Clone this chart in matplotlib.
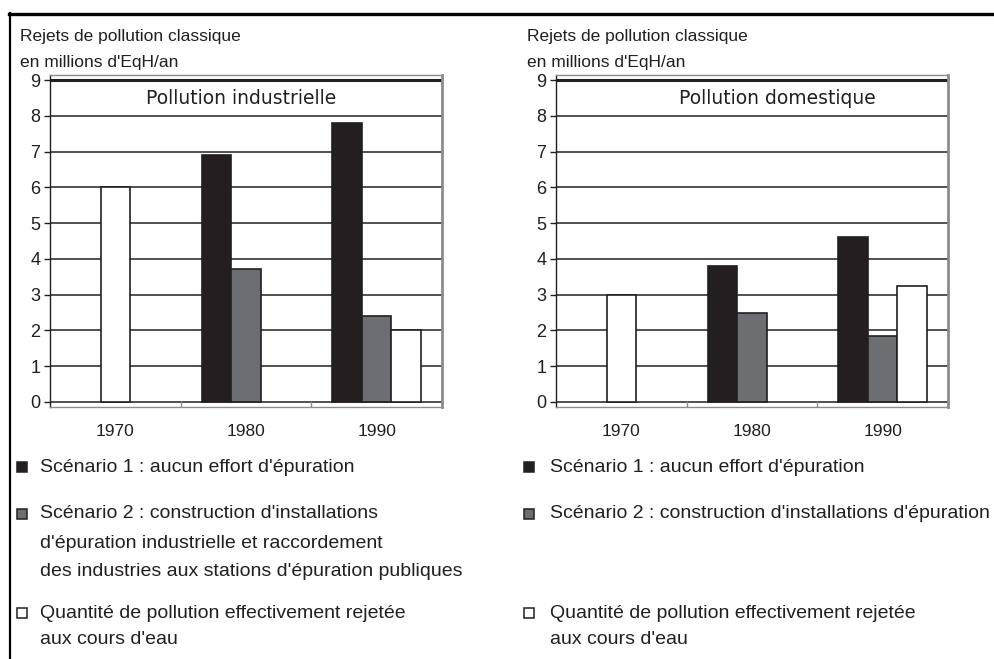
"""Rejets de pollution classique : industrielle vs domestique, 1970-1990."""

import numpy as np
import matplotlib.pyplot as plt
from matplotlib.lines import Line2D

plt.rcParams["font.family"] = ["Liberation Sans", "DejaVu Sans"]

# ── data ──────────────────────────────────────────────────────────────────────

YEARS = ["1970", "1980", "1990"]

IND_SCEN1 = [np.nan, 6.9, 7.8]     # aucun effort d'épuration
IND_SCEN2 = [np.nan, 3.72, 2.4]    # construction d'installations
IND_REJET = [6.0, np.nan, 2.0]     # pollution effectivement rejetée

DOM_SCEN1 = [np.nan, 3.8, 4.6]
DOM_SCEN2 = [np.nan, 2.5, 1.85]
DOM_REJET = [3.0, np.nan, 3.25]

YLABEL = ["Rejets de pollution classique", "en millions d'EqH/an"]

LEGEND_IND = [
    ["Scénario 1 : aucun effort d'épuration"],
    ["Scénario 2 : construction d'installations",
     "d'épuration industrielle et raccordement",
     "des industries aux stations d'épuration publiques"],
    ["Quantité de pollution effectivement rejetée",
     "aux cours d'eau"],
]
LEGEND_DOM = [
    ["Scénario 1 : aucun effort d'épuration"],
    ["Scénario 2 : construction d'installations d'épuration"],
    ["Quantité de pollution effectivement rejetée",
     "aux cours d'eau"],
]

# ── style ─────────────────────────────────────────────────────────────────────

INK = "#231f20"
GREY = "#6d6e71"
FRAME = "#8c8c8c"
BAR_W = 0.226
W, H = 994, 659


def px_x(x):
    return x / W


def px_y(y):
    return 1 - y / H


def draw_panel(ax, scen1, scen2, rejet, title, title_x):
    x = np.arange(len(YEARS))
    ax.set_xlim(-0.5, len(YEARS) - 0.5)
    ax.set_ylim(-0.14, 9.14)

    # horizontal rules at each unit, the top one heavier
    for v in range(10):
        ax.axhline(v, color=INK, lw=2.2 if v == 9 else 1.1, zorder=1)

    ax.bar(x - BAR_W, scen1, BAR_W, color=INK, edgecolor=INK, lw=1.2, zorder=3)
    ax.bar(x, scen2, BAR_W, color=GREY, edgecolor=INK, lw=1.2, zorder=3)
    # the "rejet" bar sits alone in the centre when no scenario bars exist
    alone = np.isnan(scen1) & np.isnan(scen2)
    ax.bar(np.where(alone, x, x + BAR_W), rejet, BAR_W,
           color="white", edgecolor=INK, lw=1.2, zorder=3)

    ax.set_yticks(range(10))
    ax.set_yticklabels([str(v) for v in range(10)], fontsize=13, color=INK)
    ax.tick_params(axis="y", direction="out", length=4, width=1,
                   color=INK, pad=3)

    # category separators rise from the bottom frame
    ax.set_xticks([0.5, 1.5], minor=False)
    ax.set_xticklabels([])
    ax.tick_params(axis="x", direction="in", length=4, width=1, color=FRAME)
    for xi, lab in zip(x, YEARS):
        ax.text(xi, -0.82, lab, ha="center", va="center", fontsize=12.5,
                color=INK)

    for side in ("top", "bottom"):
        ax.spines[side].set_color(FRAME)
        ax.spines[side].set_linewidth(1.0)
    ax.spines["right"].set_color(FRAME)
    ax.spines["right"].set_linewidth(2.0)
    ax.spines["left"].set_color(INK)
    ax.spines["left"].set_linewidth(1.0)

    ax.text(title_x, 8.47, title, ha="center", va="center", fontsize=13.5,
            family="DejaVu Sans", color=INK, zorder=4,
            transform=ax.get_yaxis_transform())


def draw_legend(fig, x_mark, x_text, rows, row_y):
    styles = [(INK, INK), (GREY, INK), ("white", INK)]
    for (face, edge), lines, ys in zip(styles, rows, row_y):
        fig.add_artist(Line2D([px_x(x_mark)], [px_y(ys[0])], marker="s",
                              markersize=7, markerfacecolor=face,
                              markeredgecolor=edge, markeredgewidth=1.1,
                              linestyle="none", transform=fig.transFigure))
        for line, y in zip(lines, ys):
            fig.text(px_x(x_text), px_y(y), line, ha="left", va="center",
                     fontsize=14, color=INK)


fig = plt.figure(figsize=(W / 100, H / 100), dpi=100)
fig.patch.set_facecolor("white")

ax_ind = fig.add_axes([px_x(50), px_y(407), px_x(392), 332 / H])
ax_dom = fig.add_axes([px_x(556), px_y(407), px_x(392), 332 / H])

draw_panel(ax_ind, IND_SCEN1, IND_SCEN2, IND_REJET,
           "Pollution industrielle", 0.488)
draw_panel(ax_dom, DOM_SCEN1, DOM_SCEN2, DOM_REJET,
           "Pollution domestique", 0.564)

for x0 in (20, 527):
    fig.text(px_x(x0), px_y(37), YLABEL[0], ha="left", va="center",
             fontsize=12.5, color=INK)
    fig.text(px_x(x0), px_y(62), YLABEL[1], ha="left", va="center",
             fontsize=12.5, color=INK)

draw_legend(fig, 22, 40, LEGEND_IND, [[467], [514, 543, 572], [613, 639]])
draw_legend(fig, 529, 550, LEGEND_DOM, [[467], [514], [613, 639]])

# page border: heavy top rule and a left rule
fig.add_artist(Line2D([px_x(9), px_x(994)], [px_y(13.5), px_y(13.5)],
                      color="black", lw=2.4, transform=fig.transFigure))
fig.add_artist(Line2D([px_x(10), px_x(10)], [px_y(13), px_y(659)],
                      color="black", lw=1.6, transform=fig.transFigure))

fig.savefig("out.png", dpi=100, facecolor="white")
